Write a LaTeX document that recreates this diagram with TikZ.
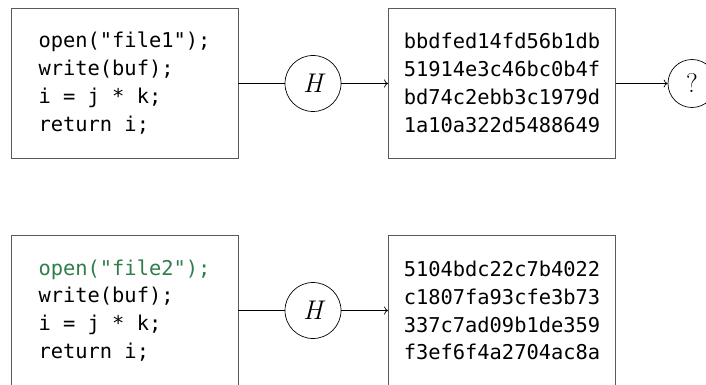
\documentclass[tikz,border=0pt]{standalone}
\usepackage{fontspec}
\setmonofont{DejaVu Sans Mono}
\usetikzlibrary{arrows.meta}
\definecolor{changed}{RGB}{46,125,75}
\definecolor{frame}{gray}{0.35}
\tikzset{
  codebox/.style={draw=frame, line width=0.9pt, minimum width=227pt, minimum height=150pt,
    inner sep=0pt, align=left,
    font=\fontsize{20.4}{27.8}\selectfont\ttfamily},
  hashfn/.style={draw, circle, line width=0.7pt, minimum size=56pt, inner sep=0pt,
    font=\fontsize{27}{30}\selectfont\itshape},
  query/.style={draw, circle, line width=0.7pt, minimum size=48pt, inner sep=0pt,
    font=\fontsize{27}{30}\selectfont},
  link/.style={line width=0.7pt},
  flow/.style={line width=0.7pt, -{To[length=4pt,width=8pt]}}
}
\begin{document}
\begin{tikzpicture}[x=1pt, y=-1pt]
  \useasboundingbox (0,0) rectangle (706,385);
  \clip (0,0) rectangle (706,385);

  % first program and its digest
  \node[codebox] (src1) at (124.5,83) {open("file1");\\write(buf);\\i = j * k;\\return i;};
  \node[hashfn] (h1) at (313,83.5) {H};
  \node[codebox] (dig1) at (502,83) {bbdfed14fd56b1db\\51914e3c46bc0b4f\\bd74c2ebb3c1979d\\1a10a322d5488649};
  \node[query] (q) at (692,83.5) {?};

  % second program, differing only in the first line
  \node[codebox] (src2) at (124.5,310.5) {\textcolor{changed}{open("file2");}\\write(buf);\\i = j * k;\\return i;};
  \node[hashfn] (h2) at (313,310.5) {H};
  \node[codebox] (dig2) at (502,310.5) {5104bdc22c7b4022\\c1807fa93cfe3b73\\337c7ad09b1de359\\f3ef6f4a2704ac8a};

  \draw[link] (src1.east |- h1) -- (h1);
  \draw[flow] (h1) -- (dig1.west |- h1);
  \draw[flow] (dig1.east |- q) -- (q);

  \draw[link] (src2.east |- h2) -- (h2);
  \draw[flow] (h2) -- (dig2.west |- h2);
\end{tikzpicture}
\end{document}
